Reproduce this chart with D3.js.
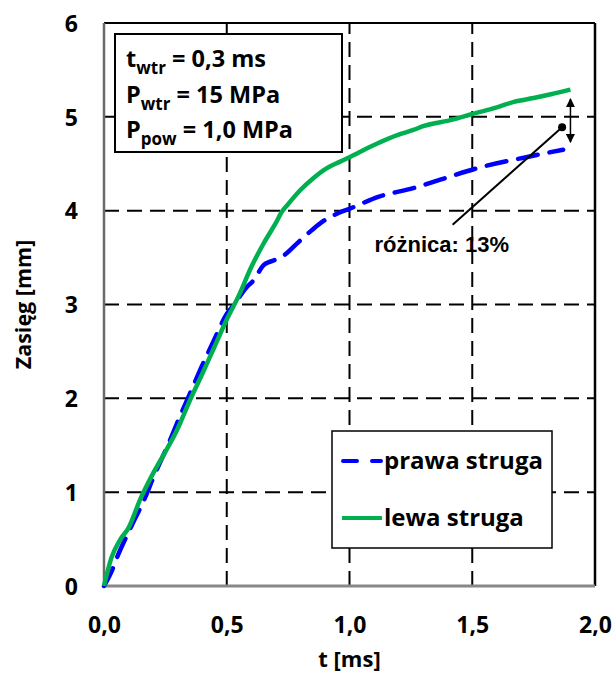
<!DOCTYPE html>
<html><head><meta charset="utf-8">
<script src="https://cdn.jsdelivr.net/npm/d3@7"></script>
<style>body{margin:0;background:#fff}svg{display:block}</style>
</head><body><svg id="c" width="616" height="675"></svg>
<script>
const xTicks = [0, 0.5, 1.0, 1.5, 2.0];
const xTickLabels = ["0,0", "0,5", "1,0", "1,5", "2,0"];
const yTicks = [0, 1, 2, 3, 4, 5, 6];
const yTickLabels = ["0", "1", "2", "3", "4", "5", "6"];

const tLewa = [0, 0.03, 0.065, 0.1, 0.147, 0.2, 0.25, 0.297, 0.35, 0.4, 0.45, 0.5, 0.55, 0.6, 0.65, 0.7, 0.725, 0.75, 0.8, 0.85, 0.9, 0.96, 1.0, 1.1, 1.2, 1.26, 1.3, 1.42, 1.5, 1.6, 1.67, 1.75, 1.82, 1.9];
const yLewa = [0, 0.3, 0.49, 0.62, 0.92, 1.2, 1.43, 1.66, 1.98, 2.26, 2.55, 2.84, 3.1, 3.4, 3.65, 3.87, 3.99, 4.07, 4.22, 4.34, 4.44, 4.52, 4.57, 4.70, 4.81, 4.86, 4.9, 4.97, 5.03, 5.10, 5.16, 5.20, 5.24, 5.29];

const tPrawa = [0, 0.03, 0.057, 0.114, 0.167, 0.2, 0.27, 0.3, 0.35, 0.4, 0.45, 0.5, 0.53, 0.58, 0.61, 0.65, 0.68, 0.72, 0.79, 0.85, 0.9, 0.96, 1.0, 1.12, 1.26, 1.37, 1.53, 1.72, 1.87];
const yPrawa = [0, 0.15, 0.33, 0.65, 0.94, 1.15, 1.56, 1.75, 2.05, 2.35, 2.63, 2.9, 3.0, 3.18, 3.26, 3.42, 3.46, 3.5, 3.66, 3.8, 3.9, 3.98, 4.02, 4.15, 4.24, 4.33, 4.46, 4.57, 4.65];

const seriesNames = ["prawa struga", "lewa struga"];
const infoLines = [["t", "wtr", " = 0,3 ms"], ["P", "wtr", " = 15 MPa"], ["P", "pow", " = 1,0 MPa"]];
const diffLabel = "różnica: 13%";

const svg = d3.select("#c");
const m = {l:104, t:23, r:21, b:89};
const W = 616 - m.l - m.r, H = 675 - m.t - m.b;
const x = d3.scaleLinear().domain([0, 2]).range([m.l, m.l + W]);
const y = d3.scaleLinear().domain([0, 6]).range([m.t + H, m.t]);
const FONT = "'Open Sans', sans-serif";

// grid
const g = svg.append("g");
g.selectAll(".hg").data(yTicks.filter(v => v > 0 && v < 6)).join("line")
  .attr("x1", x(0)).attr("x2", x(2)).attr("y1", d => y(d)).attr("y2", d => y(d))
  .attr("stroke", "#000").attr("stroke-width", 2).attr("stroke-dasharray", "15,8");
g.selectAll(".vg").data(xTicks.filter(v => v > 0 && v < 2)).join("line")
  .attr("y1", y(0)).attr("y2", y(6)).attr("x1", d => x(d)).attr("x2", d => x(d))
  .attr("stroke", "#000").attr("stroke-width", 2).attr("stroke-dasharray", "15,8");

// frame
svg.append("line").attr("x1", x(0)).attr("x2", x(2)).attr("y1", y(6)).attr("y2", y(6)).attr("stroke", "#000").attr("stroke-width", 2);
svg.append("line").attr("x1", x(2)).attr("x2", x(2)).attr("y1", y(6)).attr("y2", y(0)).attr("stroke", "#000").attr("stroke-width", 2.5);
svg.append("line").attr("x1", x(0)).attr("x2", x(0)).attr("y1", y(6)).attr("y2", y(0)).attr("stroke", "#6a6a6a").attr("stroke-width", 2.5);
svg.append("line").attr("x1", x(0)).attr("x2", x(2)).attr("y1", y(0)).attr("y2", y(0)).attr("stroke", "#888").attr("stroke-width", 3);

// axes labels
const xa = d3.axisBottom(x).tickValues(xTicks).tickFormat((d, i) => xTickLabels[i]).tickSize(0).tickPadding(0);
const xg = svg.append("g").attr("transform", `translate(0,${y(0)})`).call(xa);
xg.select(".domain").remove();
xg.selectAll("text").attr("dy", null).attr("y", 47).attr("font-family", FONT).attr("font-weight", "bold").attr("font-size", 23).attr("fill", "#000");
const ya = d3.axisLeft(y).tickValues(yTicks).tickFormat((d, i) => yTickLabels[i]).tickSize(0).tickPadding(0);
const yg = svg.append("g").attr("transform", `translate(${x(0)},0)`).call(ya);
yg.select(".domain").remove();
yg.selectAll("text").attr("x", -26).attr("dy", "0.36em").attr("font-family", FONT).attr("font-weight", "bold").attr("font-size", 23).attr("fill", "#000");

svg.append("text").attr("x", x(1)).attr("y", 667).attr("text-anchor", "middle")
  .attr("font-family", FONT).attr("font-weight", "bold").attr("font-size", 22).text("t [ms]");
svg.append("text").attr("transform", `translate(31,${y(3)}) rotate(-90)`).attr("text-anchor", "middle")
  .attr("font-family", FONT).attr("font-weight", "bold").attr("font-size", 21.5).text("Zasięg [mm]");

// lines
const line = d3.line().x(d => x(d[0])).y(d => y(d[1])).curve(d3.curveMonotoneX);
svg.append("path").datum(tPrawa.map((t, i) => [t, yPrawa[i]])).attr("d", line)
  .attr("fill", "none").attr("stroke", "#0000ff").attr("stroke-width", 4.5)
  .attr("stroke-dasharray", "20,12").attr("stroke-linecap", "round");
svg.append("path").datum(tLewa.map((t, i) => [t, yLewa[i]])).attr("d", line)
  .attr("fill", "none").attr("stroke", "#00b050").attr("stroke-width", 4.5).attr("stroke-linejoin", "round");

// info box
svg.append("rect").attr("x", 115).attr("y", 34).attr("width", 227).attr("height", 118)
  .attr("fill", "#fff").attr("stroke", "#000").attr("stroke-width", 2);
infoLines.forEach((ln, i) => {
  const t = svg.append("text").attr("x", 126).attr("y", 67 + i * 35.5)
    .attr("font-family", FONT).attr("font-weight", "bold").attr("font-size", 23.5).attr("fill", "#000");
  t.append("tspan").text(ln[0]);
  t.append("tspan").attr("font-size", 17).attr("dy", 7).text(ln[1]);
  t.append("tspan").attr("dy", -7).text(ln[2]);
});

// annotation
const defs = svg.append("defs");
defs.append("marker").attr("id", "ah").attr("viewBox", "0 0 10 10").attr("refX", 9).attr("refY", 5)
  .attr("markerWidth", 9).attr("markerHeight", 9).attr("markerUnits", "userSpaceOnUse").attr("orient", "auto-start-reverse")
  .append("path").attr("d", "M0,0 L10,5 L0,10 Z").attr("fill", "#000");
svg.append("line").attr("x1", x(1.9)).attr("x2", x(1.9)).attr("y1", y(5.19)).attr("y2", y(4.73))
  .attr("stroke", "#000").attr("stroke-width", 1.5).attr("marker-start", "url(#ah)").attr("marker-end", "url(#ah)");
svg.append("line").attr("x1", x(1.866)).attr("y1", y(4.89)).attr("x2", x(1.42)).attr("y2", y(3.85))
  .attr("stroke", "#000").attr("stroke-width", 2);
svg.append("circle").attr("cx", x(1.866)).attr("cy", y(4.89)).attr("r", 4).attr("fill", "#000");
svg.append("text").attr("x", x(1.102)).attr("y", y(3.56))
  .attr("font-family", "'Liberation Sans', Arial, sans-serif").attr("font-weight", "bold").attr("font-size", 22).text(diffLabel);

// legend
svg.append("rect").attr("x", 332).attr("y", 431).attr("width", 220).attr("height", 117)
  .attr("fill", "#fff").attr("stroke", "#000").attr("stroke-width", 1.5);
svg.append("line").attr("x1", 343).attr("x2", 381).attr("y1", 461).attr("y2", 461)
  .attr("stroke", "#0000ff").attr("stroke-width", 4).attr("stroke-dasharray", "14,15").attr("stroke-linecap", "round");
svg.append("line").attr("x1", 342).attr("x2", 382).attr("y1", 518).attr("y2", 518)
  .attr("stroke", "#00b050").attr("stroke-width", 4);
seriesNames.forEach((s, i) => {
  svg.append("text").attr("x", 384).attr("y", 469 + i * 57)
    .attr("font-family", FONT).attr("font-weight", "bold").attr("font-size", 24).text(s);
});
</script></body></html>
